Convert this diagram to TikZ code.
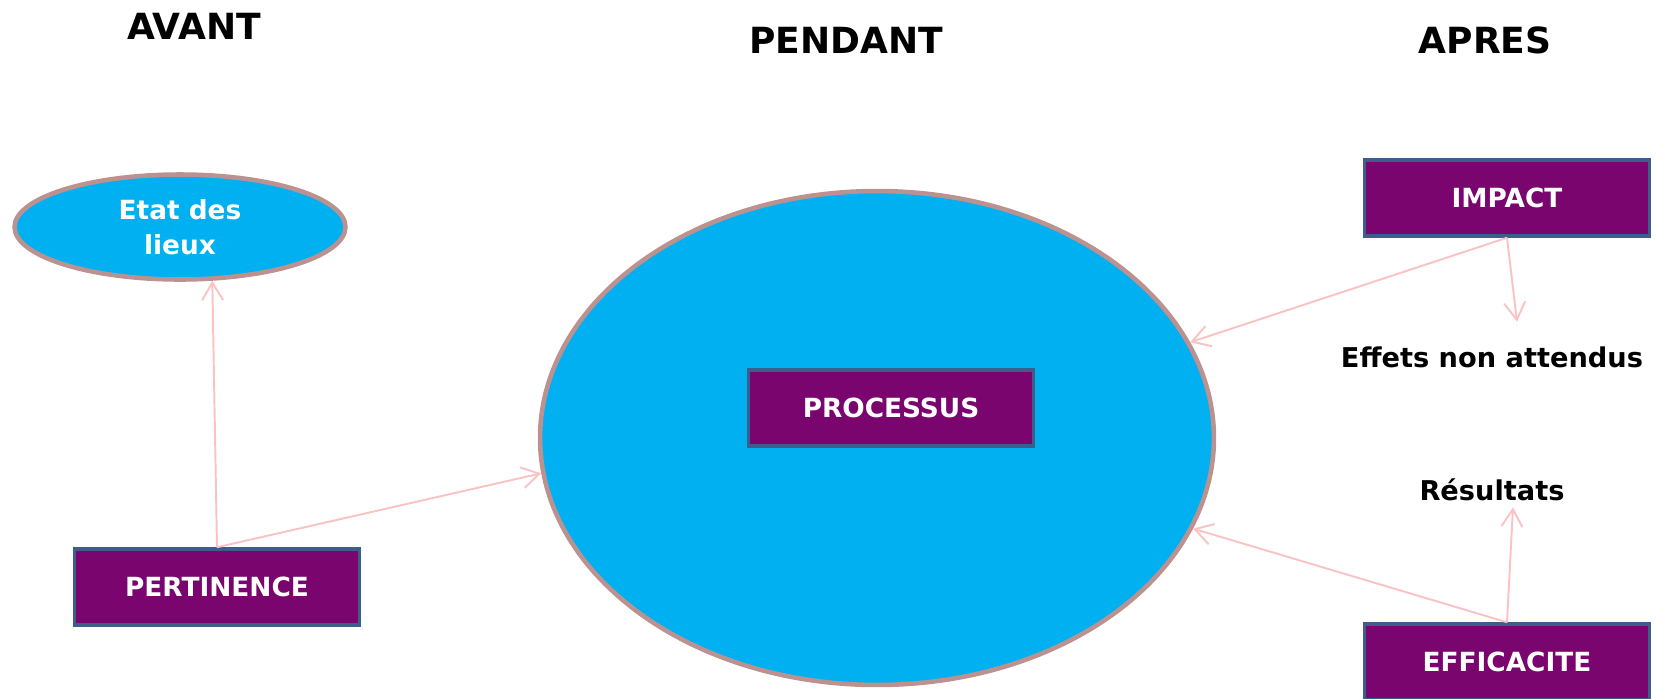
\documentclass[tikz,border=0pt]{standalone}
\usepackage{fontspec}
\setmainfont{DejaVu Sans}
\usetikzlibrary{arrows.meta,shapes.geometric}
\definecolor{skyblue}{HTML}{00B0F0}
\definecolor{rosebrd}{HTML}{BC9291}
\definecolor{plum}{HTML}{7A056E}
\definecolor{boxbrd}{HTML}{3B5E8C}
\definecolor{pinkarrow}{HTML}{F9C3C3}
\begin{document}
\begin{tikzpicture}[x=0.02cm,y=-0.02cm,
                    arrow/.style = {line width=1.1pt,pinkarrow,-{Straight Barb[length=10pt,width=12pt,line width=1.1pt]}},
                    box/.style = {draw=boxbrd,line width=2pt,fill=plum,text=white,font=\bfseries\fontsize{15}{18}\selectfont,minimum width=5.7cm,minimum height=1.52cm},
                    blob/.style = {ellipse,draw=rosebrd,line width=2.6pt,fill=skyblue,inner sep=0pt},
                    title/.style = {font=\bfseries\fontsize{20.5}{24}\selectfont},
                    label/.style = {font=\bfseries\fontsize{15.5}{18}\selectfont}]
                    \useasboundingbox (0,0) rectangle (1661,698);

                    \node [title] (avant) at (194,26) {AVANT};
                    \node [title] (pendant) at (846,40) {PENDANT};
                    \node [title] (apres) at (1485,40) {APRES};

                    \node [blob,minimum width=6.62cm,minimum height=2.1cm,text=white,align=center,
                           font=\bfseries\fontsize{15}{20}\selectfont] (etat) at (180,227) {Etat des\\lieux};
                    \node [blob,minimum width=13.48cm,minimum height=9.88cm] (processus) at (877,438) {};
                    \node [box] (proc) at (891,408) {PROCESSUS};

                    \node [box] (pertinence) at (217,587) {PERTINENCE};
                    \node [box] (impact) at (1507,198) {IMPACT};
                    \node [box] (efficacite) at (1507,662) {EFFICACITE};

                    \node [label] (effets) at (1492,357) {Effets non attendus};
                    \node [label] (resultats) at (1492,490) {Résultats};

                    \draw[arrow] (pertinence.north) -- (etat.-59);
                    \draw[arrow] (pertinence.north) -- (processus.186.5);
                    \draw[arrow] (impact.south) -- (processus.17.5);
                    \draw[arrow] (impact.south) -- ([xshift=0.5cm,yshift=0.37cm]effets.north);
                    \draw[arrow] (efficacite.north) -- (processus.-16.9);
                    \draw[arrow] (efficacite.north) -- ([xshift=0.42cm]resultats.south);
                \end{tikzpicture}
\end{document}
